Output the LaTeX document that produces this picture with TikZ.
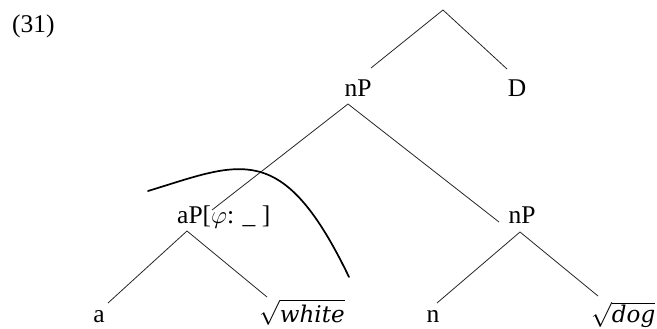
\documentclass[tikz,border=0pt]{standalone}
\usepackage{fontspec}
\setmainfont{Liberation Serif}
\newfontfamily\rootit{DejaVu Serif}[ItalicFont={DejaVu Serif Italic}]
\begin{document}
\begin{tikzpicture}[x=1pt,y=-1pt,
  lbl/.style={inner sep=0pt,font=\fontsize{25.5}{30}\selectfont},
  branch/.style={line width=0.8pt,draw=black!85},
  cut/.style={line width=1.7pt,line cap=round}]
\useasboundingbox (0,0) rectangle (657,329);
\node[lbl,anchor=base west] (ex) at (12,33) {(31)};
\node[lbl,anchor=base] (nP) at (358,97) {nP};
\node[lbl,anchor=base] (D) at (517,97) {D};
\node[lbl,anchor=base west] (aP) at (177,223) {aP[$\varphi$: \_ ]};
\node[lbl,anchor=base] (nPb) at (522,223) {nP};
\node[lbl,anchor=base] (a) at (99,322) {a};
\node[lbl,anchor=base] (n) at (433,322) {n};
\node[lbl,anchor=base west] (white) at (259,322) {$\sqrt{\hbox{\rootit\itshape\fontsize{23}{27}\selectfont white}}$};
\node[lbl,anchor=base west] (dog) at (591,322) {$\sqrt{\hbox{\rootit\itshape\fontsize{23}{27}\selectfont dog}}$};
% apexes and branch ends
\coordinate (top) at (443,10);
\coordinate (nPapex) at (348,104);
\coordinate (aPapex) at (187,231);
\coordinate (nPbapex) at (520,232);
\draw[branch] (top) -- (371,68) coordinate (nPin);
\draw[branch] (top) -- (507,69) coordinate (Din);
\draw[branch] (nPapex) -- (212,210) coordinate (aPin);
\draw[branch] (nPapex) -- (499,222) coordinate (nPbin);
\draw[branch] (aPapex) -- (108,303) coordinate (ain);
\draw[branch] (aPapex) -- (267,297) coordinate (whitein);
\draw[branch] (nPbapex) -- (437,303) coordinate (nin);
\draw[branch] (nPbapex) -- (598,296) coordinate (dogin);
% the cut line
\coordinate (c0) at (148,191);
\coordinate (c1) at (349,277);
\draw[cut] (c0) .. controls (240,163) and (282,138) .. (c1);
\end{tikzpicture}
\end{document}
